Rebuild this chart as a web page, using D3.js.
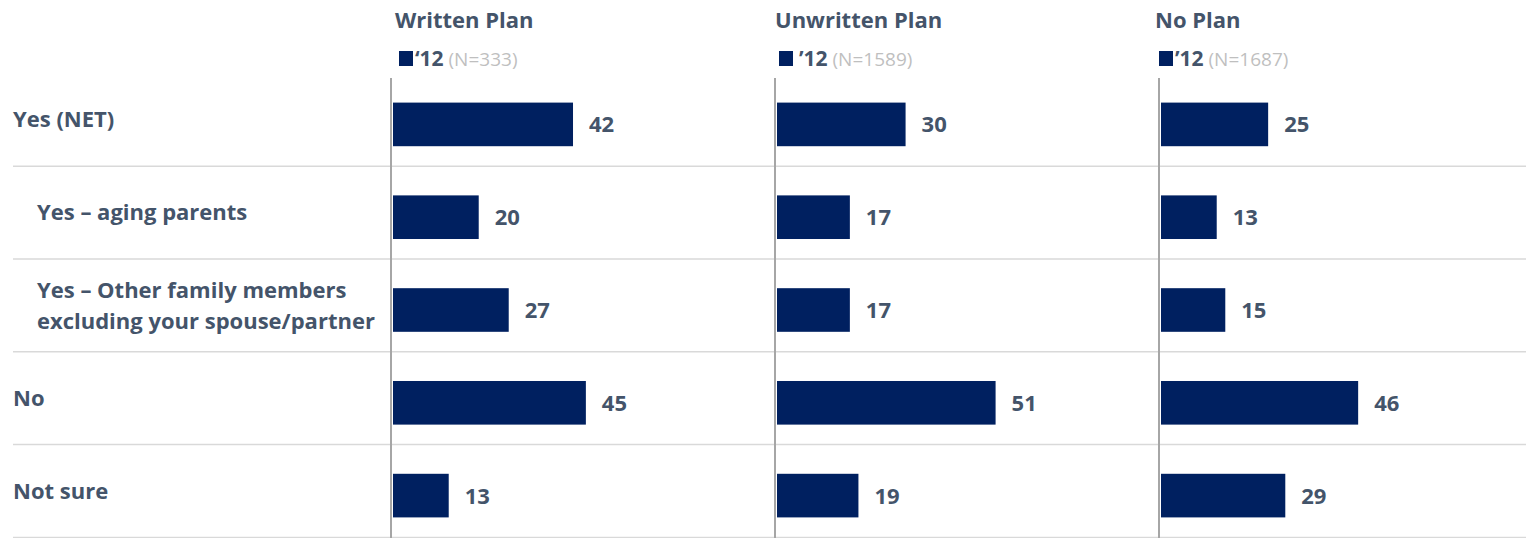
<!DOCTYPE html>
<html>
<head>
<meta charset="utf-8">
<script src="https://cdn.jsdelivr.net/npm/d3@7"></script>
<style>
  html, body { margin: 0; padding: 0; background: #fff; }
  svg { display: block; font-family: "Open Sans", Lato, sans-serif; }
</style>
</head>
<body>
<svg id="chart" width="1526" height="538"></svg>
<script>
// ---- data ----
const categories = [
  "Yes (NET)",
  "Yes – aging parents",
  "Yes – Other family members\nexcluding your spouse/partner",
  "No",
  "Not sure"
];
const isSubCategory = [false, true, true, false, false];
const groups = ["Written Plan", "Unwritten Plan", "No Plan"];
const legendYears = ["‘12", "’12", "’12"];
const sampleSizes = ["(N=333)", "(N=1589)", "(N=1687)"];
const writtenPlan = [42, 20, 27, 45, 13];
const unwrittenPlan = [30, 17, 17, 51, 19];
const noPlan = [25, 13, 15, 46, 29];
const seriesValues = [writtenPlan, unwrittenPlan, noPlan];

// ---- styles ----
const W = 1526, H = 538;
const navy = "#002060";
const textColor = "#44546A";
const svg = d3.select("#chart");

// panels
const panelX = d3.scaleBand().domain(groups).range([391, 391 + 384 * 3]).paddingInner(0);
const titleX = d3.scalePoint().domain(groups).range([395, 1155]);
const x = d3.scaleLinear().domain([0, 100]).range([0, 428.6]);
const y = d3.scaleBand().domain(categories).range([78, 542]).paddingInner(0.53).paddingOuter(0.265);

// separators
svg.append("g").selectAll("line").data(categories).join("line")
  .attr("x1", 13).attr("x2", W)
  .attr("y1", d => y(d) + y.bandwidth() + 20)
  .attr("y2", d => y(d) + y.bandwidth() + 20)
  .attr("stroke", "#d9d9d9").attr("stroke-width", 1.5);

// row labels
const rowLabels = svg.append("g").selectAll("text").data(categories).join("text")
  .attr("x", (d, i) => isSubCategory[i] ? 37 : 13)
  .attr("y", d => y(d) + y.bandwidth() / 2 + 3)
  .attr("fill", textColor)
  .attr("font-size", 22)
  .attr("font-weight", 700);
rowLabels.each(function(d) {
  const lines = d.split("\n");
  const t = d3.select(this);
  lines.forEach((ln, k) => {
    t.append("tspan")
      .attr("x", t.attr("x"))
      .attr("dy", k === 0 ? -(lines.length - 1) * 15 : 31)
      .text(ln);
  });
});

groups.forEach((g, gi) => {
  const ox = panelX(g);
  const panel = svg.append("g");
  const vals = seriesValues[gi];

  // title
  panel.append("text")
    .attr("x", titleX(g)).attr("y", 28)
    .attr("fill", textColor).attr("font-size", 22).attr("font-weight", 700)
    .text(g);

  // legend
  const lx = titleX(g) + 4;
  panel.append("rect")
    .attr("x", lx).attr("y", 51).attr("width", 14).attr("height", 15)
    .attr("fill", navy);
  const lt = panel.append("text")
    .attr("x", lx + 16 + (gi === 1 ? 4 : 0)).attr("y", 66)
    .attr("font-size", 19);
  lt.append("tspan").attr("fill", textColor).attr("font-weight", 700).attr("font-size", 21).text(legendYears[gi]);
  lt.append("tspan").attr("fill", "#bfbfbf").attr("font-weight", 400).text(" " + sampleSizes[gi]);

  // axis line
  panel.append("line")
    .attr("x1", ox).attr("x2", ox).attr("y1", 78).attr("y2", H)
    .attr("stroke", "#a6a6a6").attr("stroke-width", 2);

  // bars
  panel.selectAll("rect.bar").data(categories).join("rect")
    .attr("class", "bar")
    .attr("x", ox + 2)
    .attr("y", d => y(d))
    .attr("width", (d, i) => x(vals[i]))
    .attr("height", y.bandwidth())
    .attr("fill", navy);

  // value labels
  panel.selectAll("text.val").data(categories).join("text")
    .attr("class", "val")
    .attr("x", (d, i) => ox + 2 + x(vals[i]) + 16)
    .attr("y", d => y(d) + y.bandwidth() / 2 + 8)
    .attr("fill", textColor).attr("font-size", 22).attr("font-weight", 700)
    .text((d, i) => vals[i]);
});
</script>
</body>
</html>
